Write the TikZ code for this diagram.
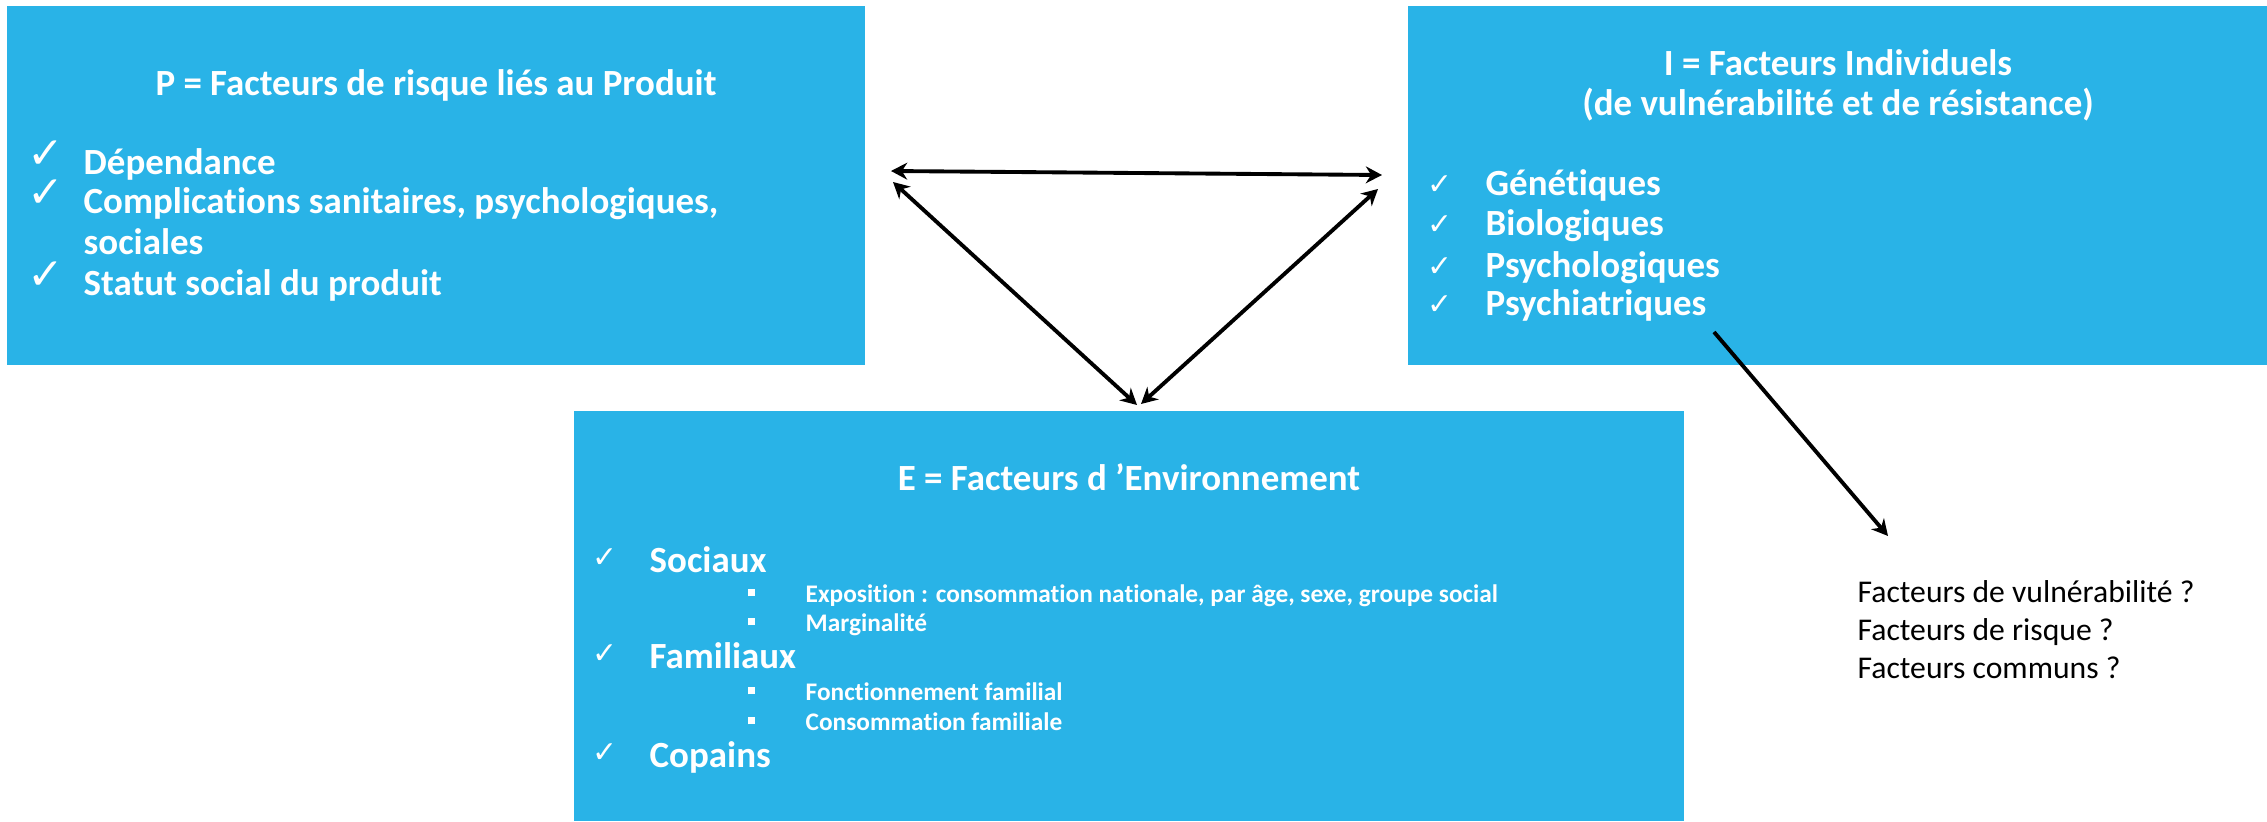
\documentclass[tikz,border=0pt]{standalone}
\usepackage{fontspec}
\setmainfont{Carlito}[Ligatures=NoCommon]
\newfontfamily\symfont{DejaVu Sans}
\usetikzlibrary{%
    arrows.meta,%
    positioning%
}
\definecolor{boxblue}{RGB}{41,179,231}

\tikzset{
    box/.style={fill=boxblue, inner sep=0pt},
    ttl/.style={text=white, font=\fontsize{10.5}{12}\selectfont\bfseries, inner sep=0pt, anchor=base},
    itm/.style={text=white, font=\fontsize{10.5}{12}\selectfont\bfseries, inner sep=0pt, anchor=base west},
    subitm/.style={text=white, font=\fontsize{7.2}{8}\selectfont\bfseries, inner sep=0pt, anchor=base west},
    bigchk/.style={text=white, font=\symfont\fontsize{12.5}{13}\selectfont, inner sep=0pt, anchor=base west},
    chk/.style={text=white, font=\symfont\fontsize{8.5}{9}\selectfont, inner sep=0pt, anchor=base west},
    link/.style={line width=1.1pt, {Stealth[length=4.6pt,width=4.8pt,inset=1.5pt]}-{Stealth[length=4.6pt,width=4.8pt,inset=1.5pt]}},
}

\begin{document}
\begin{tikzpicture}[x=0.01cm, y=-0.01cm]

    \useasboundingbox (0,0) rectangle (2267,821);

    % the three blocks
    \node[box, minimum width=8.58cm, minimum height=3.59cm] (P) at (436,185.5) {};
    \node[box, minimum width=8.59cm, minimum height=3.59cm] (I) at (1837.5,185.5) {};
    \node[box, minimum width=11.1cm, minimum height=4.1cm] (E) at (1129,616) {};

    % P = produit
    \node[ttl] (Pt) at (436,95) {P = Facteurs de risque liés au Produit};
    \foreach \n/\y/\t in {p1/174/Dépendance, p2/213/{Complications sanitaires, psychologiques,}, p3/254/sociales, p4/295/Statut social du produit}
        \node[itm] (\n) at (83,\y) {\t};
    \foreach \n/\y in {pc1/174, pc2/213, pc4/295}
        \node[bigchk] (\n) at (27,\y-6) {✓};

    % I = individu
    \node[ttl] (It) at (1838,75) {I = Facteurs Individuels};
    \node[ttl] (It2) at (1838,115) {(de vulnérabilité et de résistance)};
    \foreach \n/\y/\t in {i1/195/Génétiques, i2/235/Biologiques, i3/277/Psychologiques, i4/315/Psychiatriques} {
        \node[itm] (\n) at (1485,\y) {\t};
        \node[chk] (\n c) at (1427,\y-1) {✓};
    }

    % E = environnement
    \node[ttl] (Et) at (1129,490) {E = Facteurs d ’Environnement};
    \foreach \n/\y/\t in {e1/572/Sociaux, e2/668/Familiaux, e3/767/Copains} {
        \node[itm] (\n) at (649,\y) {\t};
        \node[chk] (\n c) at (592,\y-5) {✓};
    }
    \foreach \n/\y/\t in {s1/602/{Exposition : consommation nationale, par âge, sexe, groupe social}, s2/631/Marginalité, s3/700/Fonctionnement familial, s4/730/Consommation familiale} {
        \node[subitm] (\n) at (805,\y) {\t};
        \node[subitm] (\n b) at (747,\y) {\rule[1.6pt]{2pt}{2pt}};
    }

    % questions
    \foreach \n/\y/\t in {q1/602/Facteurs de vulnérabilité ?, q2/640/Facteurs de risque ?, q3/678/Facteurs communs ?}
        \node[anchor=base west, inner sep=0pt, font=\fontsize{9}{11}\selectfont] (\n) at (1857,\y) {\t};

    % arrows
    \coordinate (a1) at (891,171);
    \coordinate (a2) at (1382,175);
    \coordinate (b1) at (893,182);
    \coordinate (b2) at (1137,405);
    \coordinate (c1) at (1378,189);
    \coordinate (c2) at (1141,404);
    \coordinate (d1) at (1714,332);
    \coordinate (d2) at (1888,536);
    \draw[link] (a1) -- (a2);
    \draw[link] (b1) -- (b2);
    \draw[link] (c1) -- (c2);
    \draw[line width=1.1pt, -{Stealth[length=4.6pt,width=4.8pt,inset=1.5pt]}] (d1) -- (d2);
    % \draw[link] (P.east) -- (I.west);
\end{tikzpicture}
\end{document}
